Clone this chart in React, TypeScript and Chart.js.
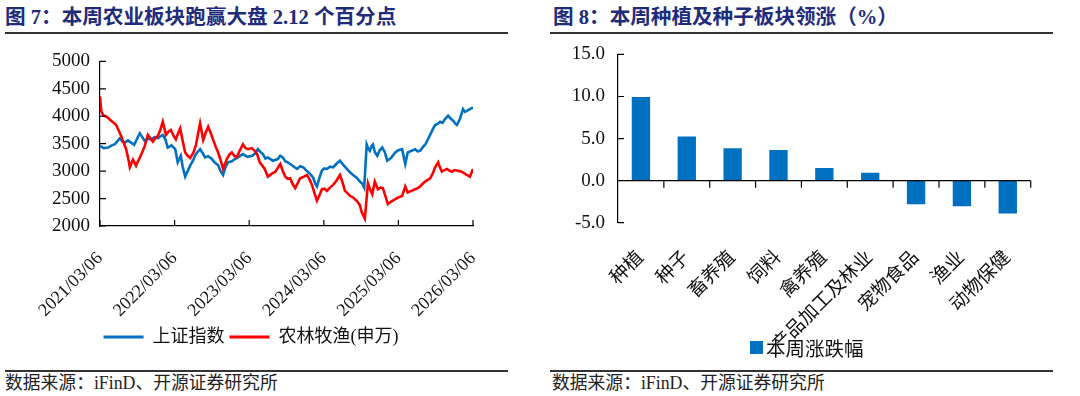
import React, { useEffect, useRef } from 'react';
import { Chart, registerables } from 'chart.js';

Chart.register(...registerables);

// ---------- Figure 7: line chart data ----------
const lineTickLabels = ['2021/03/06', '2022/03/06', '2023/03/06', '2024/03/06', '2025/03/06', '2026/03/06'];

// months since 2021/03/06
const blueMonths = [
  0.0, 0.6, 1.3, 1.9, 2.4, 2.9, 3.2, 3.6, 4.0, 4.5, 5.0, 5.5, 6.0, 6.4, 6.8, 7.2, 7.7, 8.2, 8.8, 9.3,
  9.8, 10.1, 10.5, 10.9, 11.5, 12.1, 12.5, 13.0, 13.3, 13.7, 14.1, 14.5, 15.0, 15.4, 16.1, 16.5, 16.9, 17.4, 18.0, 18.5,
  19.0, 19.4, 19.8, 20.2, 20.6, 21.2, 21.7, 22.3, 23.0, 23.7, 24.5, 25.0, 25.4, 25.8, 26.2, 26.6, 27.0, 27.8, 28.6, 29.0,
  29.4, 29.8, 30.2, 30.6, 31.2, 31.7, 32.2, 32.7, 33.2, 33.8, 34.3, 34.6, 34.9, 35.3, 35.7, 36.1, 36.5, 37.0, 37.5, 38.0,
  38.6, 39.1, 39.7, 40.2, 40.7, 41.3, 41.8, 42.2, 42.5, 42.9, 43.2, 43.4, 43.7, 43.9, 44.2, 44.6, 45.0, 45.4, 45.8, 46.2,
  46.8, 47.5, 48.0, 48.6, 49.1, 49.5, 50.1, 50.7, 51.1, 51.5, 52.0, 52.3, 52.8, 53.1, 53.6, 53.9, 54.3, 54.7, 55.1, 55.5,
  56.0, 56.4, 56.8, 57.2, 57.4, 57.9, 58.4, 58.7, 59.0, 59.5, 60.0,
];
const blueValues = [
  3460, 3420, 3430, 3470, 3490, 3560, 3600, 3540, 3520, 3560, 3520, 3480, 3600, 3690, 3620, 3550, 3590, 3580, 3620, 3600,
  3640, 3660, 3580, 3430, 3470, 3400, 3160, 3280, 3080, 2900, 3000, 3100, 3200, 3310, 3400, 3330, 3250, 3270, 3220, 3150,
  3110, 3000, 2930, 3080, 3160, 3180, 3220, 3260, 3310, 3260, 3280, 3330, 3400, 3350, 3310, 3230, 3250, 3190, 3220, 3280,
  3250, 3180, 3160, 3130, 3080, 3040, 3090, 3070, 3010, 2950, 2880, 2780, 2720, 2880, 3010, 3050, 3040, 3080, 3070, 3130,
  3190, 3120, 3040, 2980, 2930, 2880, 2810, 2770, 2700, 3485, 3400, 3370, 3460, 3485, 3350, 3280, 3380, 3430, 3350, 3190,
  3240, 3340, 3380, 3400, 3130, 3340, 3370, 3400, 3360, 3370, 3450, 3480, 3590, 3660, 3780, 3840, 3860, 3900, 3880, 3950,
  4010, 3960, 3920, 3860, 3840, 3950, 4130, 4080, 4100, 4130, 4160,
];

const redMonths = [
  0.0, 0.2, 0.5, 1.1, 1.8, 2.2, 2.6, 3.0, 3.4, 3.8, 4.2, 4.6, 4.8, 5.3, 5.8, 6.1, 6.4, 6.8, 7.2, 7.7,
  8.1, 8.5, 8.9, 9.3, 9.7, 10.1, 10.6, 11.0, 11.4, 11.8, 12.2, 12.6, 12.9, 13.3, 13.7, 14.1, 14.5, 15.0, 15.4, 15.8,
  16.1, 16.6, 17.0, 17.4, 17.8, 18.2, 18.6, 19.0, 19.4, 19.8, 20.4, 20.8, 21.2, 21.6, 22.0, 22.5, 23.0, 23.4, 23.8, 24.4,
  24.9, 25.3, 25.7, 26.1, 26.5, 27.0, 27.6, 28.2, 28.6, 29.0, 29.4, 29.8, 30.2, 30.6, 31.0, 31.4, 31.8, 32.2, 32.8, 33.3,
  33.7, 34.1, 34.5, 34.9, 35.3, 35.7, 36.1, 36.5, 37.0, 37.5, 38.0, 38.6, 39.0, 39.4, 39.8, 40.2, 40.7, 41.3, 41.8, 42.1,
  42.4, 42.6, 43.1, 43.4, 43.8, 44.2, 44.7, 45.1, 45.5, 45.9, 46.3, 46.9, 47.5, 48.0, 48.6, 49.1, 49.5, 50.1, 50.7, 51.1,
  51.5, 51.9, 52.3, 52.7, 53.1, 53.5, 53.9, 54.4, 54.7, 55.0, 55.4, 55.8, 56.2, 56.6, 57.0, 57.4, 57.8, 58.2, 58.6, 59.0,
  59.5, 60.0,
];
const redValues = [
  4360, 4100, 4020, 3990, 3920, 3880, 3840, 3740, 3640, 3520, 3400, 3200, 3070, 3210, 3100, 3180, 3240, 3350, 3460, 3660,
  3600, 3540, 3600, 3640, 3750, 3900, 3660, 3720, 3750, 3650, 3580, 3700, 3780, 3550, 3340, 3280, 3240, 3330, 3460, 3700,
  3870, 3570, 3700, 3810, 3700, 3570, 3450, 3340, 3200, 3040, 3220, 3300, 3340, 3280, 3250, 3380, 3490, 3420, 3400, 3420,
  3370, 3300, 3160, 3100, 3040, 2900, 2950, 2990, 3060, 3130, 3000, 2900, 2860, 2870, 2760, 2690, 2780, 2870, 2900, 2930,
  2850, 2750, 2600, 2460, 2560, 2670, 2680, 2640, 2700, 2750, 2820, 2930, 2800, 2640, 2600, 2550, 2520, 2460, 2380, 2250,
  2180, 2135, 2780, 2680, 2580, 2810, 2670, 2700, 2690, 2550, 2400, 2450, 2490, 2520, 2550, 2720, 2610, 2640, 2670, 2690,
  2720, 2770, 2810, 2840, 2870, 2950, 3070, 3160, 3060, 2990, 3020, 3040, 3010, 2990, 3020, 3010, 3000, 2990, 2960, 2930,
  2900, 3040,
];

// ---------- Figure 8: bar chart data ----------
const barCategories = ['种植', '种子', '畜养殖', '饲料', '禽养殖', '农产品加工及林业', '宠物食品', '渔业', '动物保健'];
const barValues = [9.95, 5.25, 3.85, 3.65, 1.5, 0.95, -2.8, -3.05, -3.9];
const barTickValues = [-5, 0, 5, 10, 15];
const barSeriesName = '本周涨跌幅';

const BLUE = '#0070C0';
const RED = '#FF0000';
const NAVY = '#1F2B7B';
const SERIF = "'Liberation Serif', 'Times New Roman', 'Noto Sans CJK SC', serif";

const axisDecor = {
  id: 'axisDecor',
  afterDraw(chart: any, _args: any, opts: any) {
    const { ctx, chartArea: a, scales } = chart;
    const xs = scales.x;
    const ys = scales.y;
    ctx.save();
    ctx.strokeStyle = '#000';
    ctx.lineWidth = 1.2;
    ctx.beginPath();
    ys.ticks.forEach((t: any) => {
      const py = ys.getPixelForValue(t.value);
      ctx.moveTo(a.left, py);
      ctx.lineTo(a.left + opts.tickLen, py);
    });
    if (opts.mode === 'line') {
      xs.ticks.forEach((t: any) => {
        const px = xs.getPixelForValue(t.value);
        ctx.moveTo(px, a.bottom);
        ctx.lineTo(px, a.bottom - opts.tickLen);
      });
    } else {
      const y0 = ys.getPixelForValue(0);
      ctx.moveTo(a.left, y0);
      ctx.lineTo(a.right, y0);
      const n = xs.ticks.length;
      const half = (xs.getPixelForValue(1) - xs.getPixelForValue(0)) / 2;
      for (let i = 1; i <= n; i++) {
        const px = xs.getPixelForValue(i - 1) + half;
        ctx.moveTo(px, y0);
        ctx.lineTo(px, y0 + opts.tickLen + 1);
      }
    }
    ctx.stroke();
    ctx.restore();
  },
};

function LineChart() {
  const ref = useRef<HTMLCanvasElement | null>(null);
  useEffect(() => {
    if (!ref.current) return;
    const chart = new Chart(ref.current, {
      type: 'line',
      data: {
        datasets: [
          {
            label: '上证指数',
            data: blueMonths.map((m, i) => ({ x: m, y: blueValues[i] })),
            borderColor: BLUE,
            backgroundColor: BLUE,
            borderWidth: 2.6,
            pointRadius: 0,
            order: 1,
          },
          {
            label: '农林牧渔(申万)',
            data: redMonths.map((m, i) => ({ x: m, y: redValues[i] })),
            borderColor: RED,
            backgroundColor: RED,
            borderWidth: 2.6,
            pointRadius: 0,
            order: 0,
          },
        ],
      },
      options: {
        animation: false,
        responsive: false,
        maintainAspectRatio: false,
        layout: { padding: { left: 29, right: 67, top: 16, bottom: 0 } },
        plugins: {
          tooltip: { enabled: false },
          legend: {
            position: 'bottom',
            labels: {
              boxWidth: 40,
              boxHeight: 3,
              padding: 5,
              color: '#111',
              font: { family: SERIF, size: 18 },
              sort: (a: any, b: any) => a.datasetIndex - b.datasetIndex,
              generateLabels: (c: any) =>
                Chart.defaults.plugins.legend.labels.generateLabels(c).map((l: any) => ({ ...l, lineWidth: 0 })),
            },
          },
          axisDecor: { mode: 'line', tickLen: 6 },
        } as any,
        scales: {
          x: {
            type: 'linear',
            min: 0,
            max: 60,
            afterFit: (s: any) => { s.height = 97; },
            grid: { display: false, drawTicks: false },
            border: { display: true, color: '#000', width: 1.2 },
            ticks: {
              stepSize: 12,
              autoSkip: false,
              maxRotation: 45,
              minRotation: 45,
              padding: 22,
              color: '#111',
              font: { family: SERIF, size: 18 },
              callback: (v: any) => lineTickLabels[Math.round(Number(v) / 12)],
            },
          },
          y: {
            min: 2000,
            max: 5000,
            afterFit: (s: any) => { s.width = 71; },
            grid: { display: false, drawTicks: false },
            border: { display: true, color: '#000', width: 1.2 },
            ticks: {
              stepSize: 500,
              padding: 10,
              color: '#111',
              font: { family: SERIF, size: 19 },
              callback: (v: any) => String(v),
            },
          },
        },
      },
      plugins: [axisDecor],
    } as any);
    return () => chart.destroy();
  }, []);
  return (
    <canvas
      ref={ref}
      width={540}
      height={316}
      style={{ position: 'absolute', left: 0, top: 40, width: 540, height: 316 }}
    />
  );
}

function BarChart() {
  const ref = useRef<HTMLCanvasElement | null>(null);
  useEffect(() => {
    if (!ref.current) return;
    const chart = new Chart(ref.current, {
      type: 'bar',
      data: {
        labels: barCategories,
        datasets: [
          {
            label: barSeriesName,
            data: barValues,
            backgroundColor: BLUE,
            borderWidth: 0,
            barPercentage: 0.4,
            categoryPercentage: 1,
          },
        ],
      },
      options: {
        animation: false,
        responsive: false,
        maintainAspectRatio: false,
        layout: { padding: { left: 0, right: 49.3, top: 18.3, bottom: 0.3 } },
        plugins: {
          tooltip: { enabled: false },
          legend: { display: false },
          axisDecor: { mode: 'bar', tickLen: 6 },
        } as any,
        scales: {
          x: {
            afterFit: (s: any) => { s.height = 120; },
            grid: { display: false, drawTicks: false },
            border: { display: false },
            ticks: {
              autoSkip: false,
              maxRotation: 45,
              minRotation: 45,
              padding: 24,
              color: '#111',
              font: { family: SERIF, size: 19 },
            },
          },
          y: {
            min: barTickValues[0],
            max: barTickValues[barTickValues.length - 1],
            afterFit: (s: any) => { s.width = 78; },
            grid: { display: false, drawTicks: false },
            border: { display: true, color: '#000', width: 1.2 },
            ticks: {
              stepSize: 5,
              padding: 13,
              color: '#111',
              font: { family: SERIF, size: 19 },
              callback: (v: any) => Number(v).toFixed(1),
            },
          },
        },
      },
      plugins: [axisDecor],
    } as any);
    return () => chart.destroy();
  }, []);
  return (
    <canvas
      ref={ref}
      width={540}
      height={313}
      style={{ position: 'absolute', left: 540, top: 30, width: 540, height: 313 }}
    />
  );
}

const titleStyle: React.CSSProperties = {
  position: 'absolute',
  top: 5,
  fontFamily: SERIF,
  fontWeight: 'bold',
  fontSize: 20.6,
  lineHeight: '24px',
  color: NAVY,
  whiteSpace: 'nowrap',
};
const sourceStyle: React.CSSProperties = {
  position: 'absolute',
  top: 372,
  fontFamily: SERIF,
  fontSize: 17.8,
  lineHeight: '22px',
  color: '#222',
  whiteSpace: 'nowrap',
};
const rule = (left: number, top: number, width: number): React.CSSProperties => ({
  position: 'absolute',
  left,
  top,
  width,
  height: 1.5,
  background: '#333',
});

export default function App() {
  return (
    <div style={{ position: 'absolute', left: 0, top: 0, width: 1080, height: 396, background: '#fff', overflow: 'hidden' }}>
      <div style={{ ...titleStyle, left: 5 }}>图 7：本周农业板块跑赢大盘 2.12 个百分点</div>
      <div style={{ ...titleStyle, left: 553 }}>图 8：本周种植及种子板块领涨（%）</div>
      <div style={rule(5, 32, 503)} />
      <div style={rule(550, 32, 503)} />
      <div style={rule(5, 370, 503)} />
      <div style={rule(550, 370, 503)} />
      <div style={{ ...sourceStyle, left: 5 }}>数据来源：iFinD、开源证券研究所</div>
      <div style={{ ...sourceStyle, left: 552 }}>数据来源：iFinD、开源证券研究所</div>
      <LineChart />
      <BarChart />
      <div
        style={{
          position: 'absolute',
          left: 750,
          top: 334,
          height: 26,
          display: 'flex',
          alignItems: 'center',
          fontFamily: SERIF,
          fontSize: 19.5,
          color: '#111',
          whiteSpace: 'nowrap',
          background: 'transparent',
        }}
      >
        <span style={{ display: 'inline-block', width: 13, height: 13, background: BLUE, marginRight: 3 }} />
        <span>{barSeriesName}</span>
      </div>
    </div>
  );
}
